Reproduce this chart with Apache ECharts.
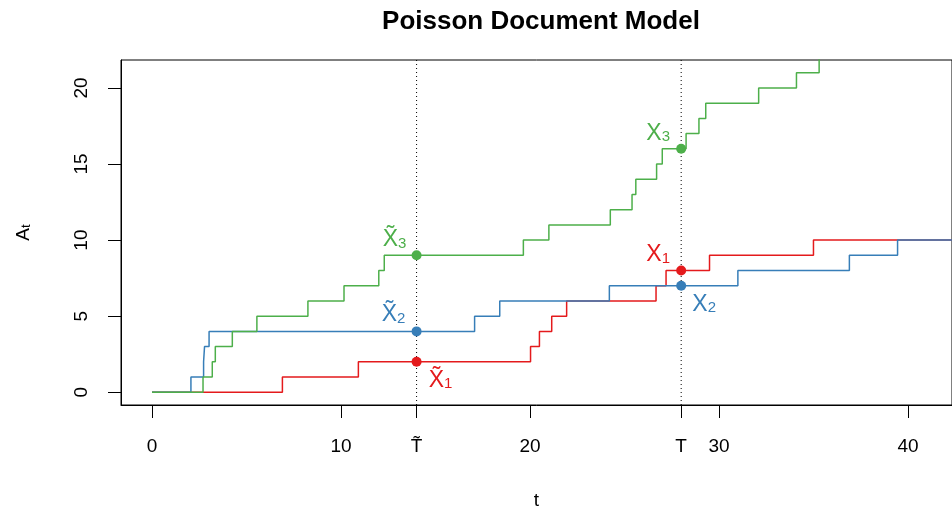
<!DOCTYPE html>
<html><head><meta charset="utf-8">
<script src="https://cdn.jsdelivr.net/npm/echarts@6/dist/echarts.min.js"></script>
<style>html,body{margin:0;padding:0;background:#fff}#c{width:952px;height:512px}</style>
</head><body><div id="c"></div>
<script>
// ---- data ----
const xTicks = [0, 10, 14, 20, 28, 30, 40];
const xTickLabels = ['0', '10', 'T\u0303', '20', 'T', '30', '40'];
const yTicks = [0, 5, 10, 15, 20];
const x1Times  = [0, 6.9, 10.92, 20.03, 20.5, 21.15, 21.94, 26.67, 27.2, 29.5, 35.0, 42.64];
const x1Counts = [0, 1, 2, 3, 4, 5, 6, 7, 8, 9, 10, 10];
const x2Times  = [0, 2.06, 2.73, 2.78, 3.02, 17.07, 18.4, 24.2, 31.0, 36.9, 39.45, 42.64];
const x2Counts = [0, 1, 2, 3, 4, 5, 6, 7, 8, 9, 10, 10];
const x3Times  = [0, 2.70, 3.19, 3.35, 4.25, 5.55, 8.25, 10.16, 12.0, 12.29, 19.65, 21.0, 24.25, 25.4, 25.6, 26.7, 27.0, 28.26, 28.94, 29.3, 32.1, 34.1, 35.3, 42.64];
const x3Counts = [0, 1, 2, 3, 4, 5, 6, 7, 8, 9, 10, 11, 12, 13, 14, 15, 16, 17, 18, 19, 20, 21, 22, 22];
const cutTimes = [14, 28];
const pointTimes  = [14, 14, 14, 28, 28, 28];
const pointCounts = [2, 4, 9, 8, 7, 16];
const pointMain = ['X\u0303', 'X\u0303', 'X\u0303', 'X', 'X', 'X'];
const pointSub  = ['1', '2', '3', '1', '2', '3'];

// ---- styling ----
const FONT = 'Liberation Sans, Arial, sans-serif';
const RED = '#E41A1C', BLUE = '#377EB8', GREEN = '#4DAF4A';
const pointColors = [RED, BLUE, GREEN, RED, BLUE, GREEN];
const pointOffsets = [[24, 16], [-23, -19], [-22, -18], [-23, -18], [23, 16], [-23, -18]];
const XMIN = -1.64, XMAX = 42.33, YMIN = -0.84, YMAX = 21.84;

function zip(a, b) { return a.map((v, i) => [v, b[i]]); }

const stepSeries = [[x1Times, x1Counts, RED], [x2Times, x2Counts, BLUE], [x3Times, x3Counts, GREEN]].map(([t, c, col]) => ({
  type: 'line', step: 'end', data: zip(t, c), symbol: 'none', clip: true,
  lineStyle: { color: col, width: 1.5 }, itemStyle: { color: col }, silent: true
}));

const cutSeries = cutTimes.map(t => ({
  type: 'line', data: [[t, YMIN], [t, YMAX]], symbol: 'none',
  lineStyle: { color: '#000', width: 1, type: [1, 3] }, silent: true, z: 1
}));

const pointSeries = pointTimes.map((t, i) => ({
  type: 'scatter', symbolSize: 10, z: 5,
  data: [[t, pointCounts[i]]],
  itemStyle: { color: pointColors[i], opacity: 1 },
  label: {
    show: true,
    position: [5 + pointOffsets[i][0], 5 + pointOffsets[i][1]],
    align: 'center', verticalAlign: 'middle',
    formatter: '{m|' + pointMain[i] + '}{s|' + pointSub[i] + '}',
    rich: {
      m: { fontFamily: FONT, fontSize: 23, color: pointColors[i], lineHeight: 28, verticalAlign: 'bottom' },
      s: { fontFamily: FONT, fontSize: 15, color: pointColors[i], lineHeight: 16, verticalAlign: 'bottom' }
    }
  }
}));

const chart = echarts.init(document.getElementById('c'), null, { renderer: 'canvas' });
chart.setOption({
  animation: false,
  backgroundColor: '#fff',
  title: {
    text: 'Poisson Document Model', left: 536, top: 4, textAlign: 'center',
    textStyle: { fontFamily: FONT, fontWeight: 'bold', fontSize: 26, color: '#000' }
  },
  grid: { left: 121, top: 60, right: 0, bottom: 107, outerBoundsMode: 'none', containLabel: false, show: true, borderColor: '#000', borderWidth: 1, backgroundColor: 'transparent' },
  xAxis: {
    type: 'value', position: 'bottom', offset: 0, min: XMIN, max: XMAX,
    name: 't', nameLocation: 'middle', nameGap: 86,
    nameTextStyle: { fontFamily: FONT, fontSize: 19, color: '#000' },
    axisLine: { show: true, onZero: false, lineStyle: { color: '#000', width: 1 } },
    axisTick: { show: true, inside: false, length: 13, customValues: xTicks, lineStyle: { color: '#000', width: 1 } },
    axisLabel: {
      customValues: xTicks, margin: 32, fontFamily: FONT, fontSize: 19, color: '#000',
      formatter: v => { const i = xTicks.indexOf(v); return i >= 0 ? xTickLabels[i] : ''; }
    },
    splitLine: { show: false }
  },
  yAxis: {
    type: 'value', position: 'left', offset: 0, min: YMIN, max: YMAX,
    name: 'A{s|t}', nameLocation: 'middle', nameGap: 88, nameRotate: 90,
    nameTextStyle: { fontFamily: FONT, fontSize: 19, color: '#000', rich: { s: { fontFamily: FONT, fontSize: 13, color: '#000', verticalAlign: 'bottom' } } },
    axisLine: { show: true, onZero: false, lineStyle: { color: '#000', width: 1 } },
    axisTick: { show: true, inside: false, length: 13, customValues: yTicks, lineStyle: { color: '#000', width: 1 } },
    axisLabel: { customValues: yTicks, rotate: 90, margin: 30, fontFamily: FONT, fontSize: 19, color: '#000' },
    splitLine: { show: false }
  },
  series: [...cutSeries, ...stepSeries, ...pointSeries]
});
</script></body></html>
